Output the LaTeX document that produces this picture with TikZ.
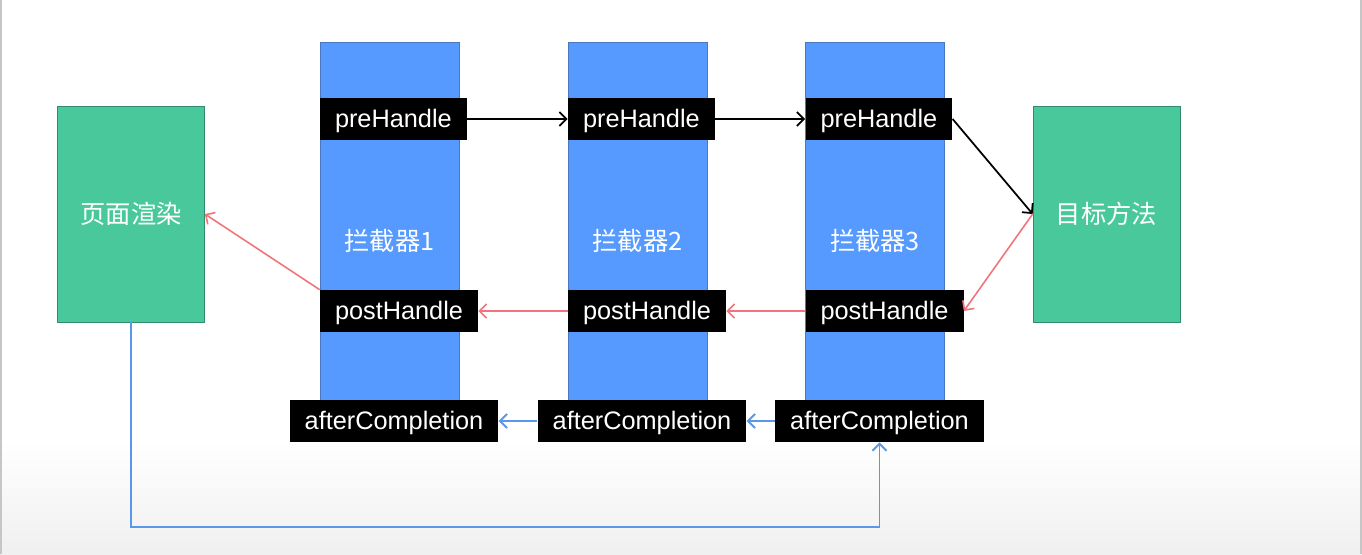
\documentclass[tikz,border=0pt]{standalone}
\usepackage{fontspec}
\setmainfont{Liberation Sans}
\newfontfamily\cjk{Noto Sans CJK SC}
\usetikzlibrary{positioning, arrows.meta}

\definecolor{colfill}{HTML}{5699FF}
\definecolor{coledge}{HTML}{4A78C0}
\definecolor{endfill}{HTML}{49C99B}
\definecolor{endedge}{HTML}{2F8C6C}
\definecolor{redline}{HTML}{F2737B}
\definecolor{blueline}{HTML}{5B97E8}

\tikzset{
    column/.style = {draw=coledge, fill=colfill, text=white,
        minimum width=2.78cm, minimum height=7.96cm,
        font=\cjk\fontsize{14.4}{17}\selectfont},
    endbox/.style = {draw=endedge, fill=endfill, text=white,
        minimum width=2.94cm, minimum height=4.32cm,
        font=\cjk\fontsize{14.4}{17}\selectfont},
    hookbox/.style = {fill=black, text=white, inner xsep=0.3cm, inner ysep=0pt,
        text height=10.3pt, text depth=1pt,
        minimum height=0.84cm, font=\fontsize{14.4}{17}\selectfont},
    tip/.style = {-{Straight Barb[length=4pt,width=8pt]}},
    preline/.style = {tip, black, line width=1pt},
    postline/.style = {tip, redline, line width=0.9pt},
    afterline/.style = {tip, blueline, line width=1.1pt}
}

\begin{document}
\begin{tikzpicture}
    \useasboundingbox (0,0) rectangle (27.24,-11.08);

    %Background
    \shade[top color=white, bottom color=gray!12] (0,-8.8) rectangle (27.24,-11.08);
    \draw[gray!45, line width=1pt] (0.02,0) -- (0.02,-11.08);
    \draw[gray!45, line width=1pt] (27.22,0) -- (27.22,-11.08);

    %Interceptors
    \node[column] (c1) at (7.79,-4.82) {拦截器1};
    \node[column] (c2) at (12.75,-4.82) {拦截器2};
    \node[column] (c3) at (17.5,-4.82) {拦截器3};

    \node[endbox] (render) at (2.62,-4.28) {页面渲染};
    \node[endbox] (target) at (22.13,-4.28) {目标方法};

    %Hooks
    \foreach \i in {1,2,3} {
        \node[hookbox, below right=1.12cm and 0cm of c\i.north west] (pre\i) {preHandle};
        \node[hookbox, below right=4.96cm and 0cm of c\i.north west] (post\i) {postHandle};
        \node[hookbox, below=7.16cm of c\i.north, xshift=0.09cm] (after\i) {afterCompletion};
    }

    %Arrows
    \draw[preline] (pre1.east) -- (pre2.west);
    \draw[preline] (pre2.east) -- (pre3.west);
    \draw[preline] (pre3.east) -- (target.west);

    \draw[postline] (target.west) -- (post3.east);
    \draw[postline] (post3.west) -- (post2.east);
    \draw[postline] (post2.west) -- (post1.east);
    \draw[postline] (post1.north west) -- (render.east);

    \draw[afterline] (after3.west) -- (after2.east);
    \draw[afterline] (after2.west) -- (after1.east);
    \draw[afterline] (render.south) -- ++(0,-4.1) -| (after3.south);
\end{tikzpicture}
\end{document}
